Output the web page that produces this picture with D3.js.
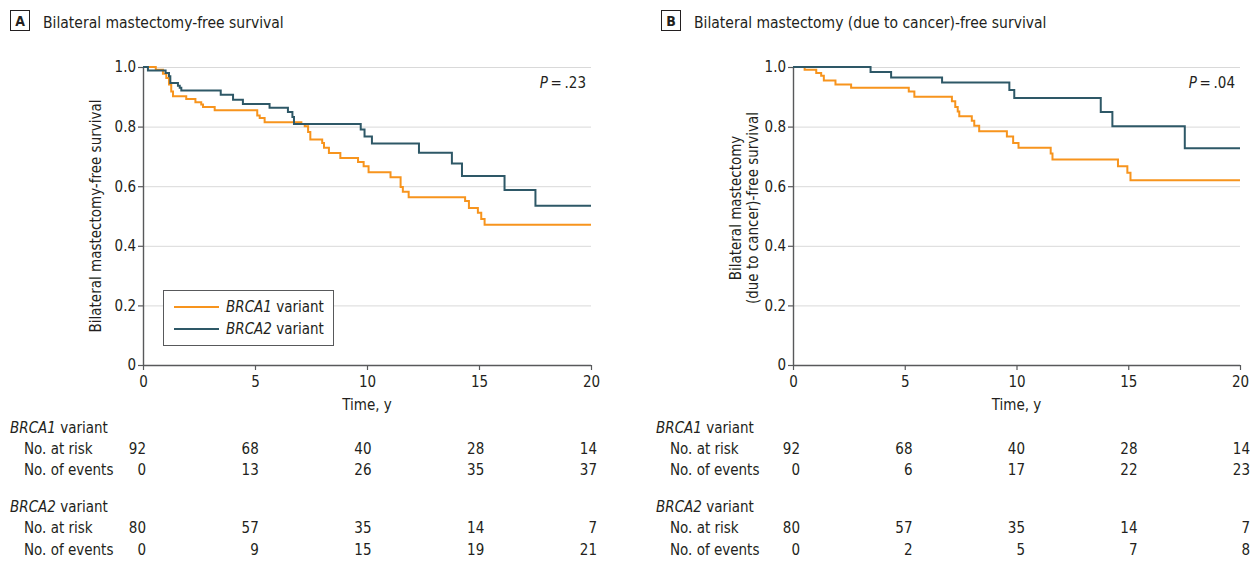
<!DOCTYPE html>
<html>
<head>
<meta charset="utf-8">
<script src="https://cdn.jsdelivr.net/npm/d3@7"></script>
<style>
  html, body { margin: 0; padding: 0; background: #fff; }
  svg text { font-family: "Liberation Sans Narrow", "DejaVu Sans Condensed", "Roboto", sans-serif; fill: #231f20; }
</style>
</head>
<body>
<svg id="chart" width="1256" height="561"></svg>
<script>
// ---------- data ----------
const xTicks = [0, 5, 10, 15, 20];
const yTicks = [0, 0.2, 0.4, 0.6, 0.8, 1.0];
const yTickLabels = ["0", "0.2", "0.4", "0.6", "0.8", "1.0"];

// Panel A: bilateral mastectomy-free survival
const aBrca1Times = [0, 0.57, 0.89, 1.04, 1.16, 1.26, 1.34, 1.93, 2.34, 2.60, 2.68, 3.20, 5.10, 5.21, 5.43, 7.07, 7.22, 7.37, 7.47, 8.0, 8.08, 8.30, 8.81, 9.6, 9.85, 10.07, 11.05, 11.5, 11.6, 11.86, 14.38, 14.55, 14.95, 15.1, 15.25, 20];
const aBrca1Surv  = [1, 0.991, 0.977, 0.963, 0.941, 0.918, 0.902, 0.893, 0.882, 0.874, 0.866, 0.855, 0.837, 0.829, 0.815, 0.809, 0.801, 0.782, 0.757, 0.745, 0.729, 0.711, 0.695, 0.681, 0.667, 0.647, 0.630, 0.597, 0.581, 0.563, 0.550, 0.527, 0.511, 0.490, 0.471, 0.471];
const aBrca2Times = [0, 0.22, 1.01, 1.16, 1.22, 1.56, 1.64, 1.71, 3.47, 4.02, 4.46, 5.65, 6.47, 6.67, 6.74, 9.72, 9.89, 10.22, 12.32, 13.79, 14.24, 16.14, 17.52, 20];
const aBrca2Surv  = [1, 0.988, 0.980, 0.969, 0.946, 0.937, 0.930, 0.921, 0.907, 0.890, 0.876, 0.863, 0.849, 0.832, 0.809, 0.790, 0.767, 0.743, 0.712, 0.676, 0.634, 0.587, 0.534, 0.534];

// Panel B: bilateral mastectomy (due to cancer)-free survival
const bBrca1Times = [0, 0.52, 1.04, 1.26, 1.38, 1.9, 2.6, 5.18, 5.43, 7.11, 7.26, 7.37, 7.44, 8.0, 8.11, 8.33, 9.57, 9.85, 10.09, 11.53, 11.61, 14.54, 14.96, 15.1, 20];
const bBrca1Surv  = [1, 0.991, 0.980, 0.971, 0.955, 0.941, 0.930, 0.918, 0.900, 0.885, 0.866, 0.851, 0.835, 0.820, 0.803, 0.784, 0.767, 0.745, 0.729, 0.710, 0.690, 0.667, 0.645, 0.620, 0.620];
const bBrca2Times = [0, 3.47, 4.39, 6.67, 9.68, 9.9, 13.77, 14.29, 17.53, 20];
const bBrca2Surv  = [1, 0.983, 0.965, 0.948, 0.923, 0.896, 0.849, 0.801, 0.727, 0.727];

// Risk tables
const tableTimes = [0, 5, 10, 15, 20];
const aBrca1AtRisk = [92, 68, 40, 28, 14];
const aBrca1Events = [0, 13, 26, 35, 37];
const aBrca2AtRisk = [80, 57, 35, 14, 7];
const aBrca2Events = [0, 9, 15, 19, 21];
const bBrca1AtRisk = [92, 68, 40, 28, 14];
const bBrca1Events = [0, 6, 17, 22, 23];
const bBrca2AtRisk = [80, 57, 35, 14, 7];
const bBrca2Events = [0, 2, 5, 7, 8];

const seriesNames = ["BRCA1", "BRCA2"];
const colors = { BRCA1: "#f7941d", BRCA2: "#2e5867" };

// ---------- drawing ----------
const svg = d3.select("#chart");

function panel(opts) {
  const g = svg.append("g");
  const x = d3.scaleLinear().domain([0, 20]).range([opts.x0, opts.x1]);
  const y = d3.scaleLinear().domain([0, 1]).range([365, 67]);

  // header
  g.append("rect").attr("x", opts.boxX + 0.5).attr("y", 10.5).attr("width", 19).attr("height", 20)
    .attr("fill", "none").attr("stroke", "#231f20").attr("stroke-width", 1);
  g.append("text").attr("x", opts.boxX + 10).attr("y", 26).attr("text-anchor", "middle")
    .attr("font-size", 14).attr("font-weight", "bold").text(opts.letter);
  g.append("text").attr("x", opts.boxX + 33).attr("y", 28).attr("font-size", 15.5).text(opts.title);

  // gridlines
  g.append("g").selectAll("line").data(yTicks.filter(d => d > 0)).join("line")
    .attr("x1", opts.x0).attr("x2", opts.x1)
    .attr("y1", d => y(d) + 0.5).attr("y2", d => y(d) + 0.5)
    .attr("stroke", "#d9d9d9").attr("stroke-width", 1);

  // axes
  const yAxis = d3.axisLeft(y).tickValues(yTicks).tickFormat((d, i) => yTickLabels[i]).tickSize(5).tickPadding(2);
  const ya = g.append("g").attr("transform", `translate(${opts.x0},0)`).call(yAxis);
  const xAxis = d3.axisBottom(x).tickValues(xTicks).tickSize(5).tickPadding(6);
  const xa = g.append("g").attr("transform", `translate(0,365)`).call(xAxis);
  [ya, xa].forEach(a => {
    a.select(".domain").attr("stroke", "#58595b").attr("stroke-width", 1.4);
    a.selectAll(".tick line").attr("stroke", "#58595b").attr("stroke-width", 1.2);
    a.selectAll("text").attr("font-size", 15).attr("fill", "#231f20")
      .attr("font-family", '"Liberation Sans Narrow", "DejaVu Sans Condensed", Roboto, sans-serif');
  });
  ya.select(".domain").attr("d", `M0.5,${y(1)}V${y(0)}`);
  xa.select(".domain").attr("d", `M${opts.x0},0.5H${opts.x1}`);

  // axis titles
  g.append("text").attr("x", (opts.x0 + opts.x1) / 2).attr("y", 410).attr("text-anchor", "middle")
    .attr("font-size", 15).text("Time, y");
  const yt = g.append("text").attr("transform", `translate(${opts.yTitleX},${opts.yTitleY}) rotate(-90)`)
    .attr("text-anchor", "middle").attr("font-size", 15);
  opts.yTitle.forEach((line, i) => {
    yt.append("tspan").attr("x", 0).attr("dy", i === 0 ? 0 : 17).text(line);
  });

  // P value
  const pt = g.append("text").attr("x", opts.x1 - 5).attr("y", 88).attr("text-anchor", "end").attr("font-size", 15);
  pt.append("tspan").attr("font-style", "italic").text("P");
  pt.append("tspan").text("\u2009=\u2009" + opts.p);

  // curves
  const line = d3.line().x(d => x(d[0])).y(d => y(d[1])).curve(d3.curveStepAfter);
  opts.series.forEach(s => {
    const pts = s.times.map((t, i) => [t, s.surv[i]]);
    g.append("path").attr("d", line(pts)).attr("fill", "none")
      .attr("stroke", colors[s.name]).attr("stroke-width", 2);
  });

  // legend
  if (opts.legend) {
    const lg = g.append("g");
    lg.append("rect").attr("x", 163.5).attr("y", 290.5).attr("width", 170).attr("height", 55)
      .attr("fill", "#fff").attr("stroke", "#58595b").attr("stroke-width", 1);
    seriesNames.forEach((n, i) => {
      const yy = 307 + i * 22;
      lg.append("line").attr("x1", 174).attr("x2", 219).attr("y1", yy).attr("y2", yy)
        .attr("stroke", colors[n]).attr("stroke-width", 2);
      const t = lg.append("text").attr("x", 226).attr("y", yy + 5).attr("font-size", 15);
      t.append("tspan").attr("font-style", "italic").text(n);
      t.append("tspan").text(" variant");
    });
  }

  // risk table
  const tx = d3.scaleLinear().domain([0, 20]).range(opts.tableRange);
  const rows = [
    { y: 433, label: "BRCA1", group: true },
    { y: 454, label: "No. at risk", vals: opts.t1risk },
    { y: 475, label: "No. of events", vals: opts.t1events },
    { y: 512, label: "BRCA2", group: true },
    { y: 533, label: "No. at risk", vals: opts.t2risk },
    { y: 555, label: "No. of events", vals: opts.t2events }
  ];
  rows.forEach(r => {
    if (r.group) {
      const t = g.append("text").attr("x", opts.tableX).attr("y", r.y).attr("font-size", 15);
      t.append("tspan").attr("font-style", "italic").text(r.label);
      t.append("tspan").text(" variant");
    } else {
      g.append("text").attr("x", opts.tableX + 14).attr("y", r.y).attr("font-size", 15).text(r.label);
      g.append("g").selectAll("text").data(tableTimes).join("text")
        .attr("x", d => tx(d)).attr("y", r.y).attr("text-anchor", "end").attr("font-size", 15)
        .text((d, i) => r.vals[i]);
    }
  });
}

panel({
  letter: "A", boxX: 10, title: "Bilateral mastectomy-free survival",
  x0: 143, x1: 591, yTitleX: 101, yTitleY: 216, yTitle: ["Bilateral mastectomy-free survival"], p: ".23",
  series: [
    { name: "BRCA1", times: aBrca1Times, surv: aBrca1Surv },
    { name: "BRCA2", times: aBrca2Times, surv: aBrca2Surv }
  ],
  legend: true, tableX: 10, tableRange: [146, 597],
  t1risk: aBrca1AtRisk, t1events: aBrca1Events, t2risk: aBrca2AtRisk, t2events: aBrca2Events
});

panel({
  letter: "B", boxX: 661, title: "Bilateral mastectomy (due to cancer)-free survival",
  x0: 793, x1: 1240, yTitleX: 741, yTitleY: 208, yTitle: ["Bilateral mastectomy", "(due to cancer)-free survival"], p: ".04",
  series: [
    { name: "BRCA1", times: bBrca1Times, surv: bBrca1Surv },
    { name: "BRCA2", times: bBrca2Times, surv: bBrca2Surv }
  ],
  legend: false, tableX: 656, tableRange: [800, 1250],
  t1risk: bBrca1AtRisk, t1events: bBrca1Events, t2risk: bBrca2AtRisk, t2events: bBrca2Events
});
</script>
</body>
</html>
